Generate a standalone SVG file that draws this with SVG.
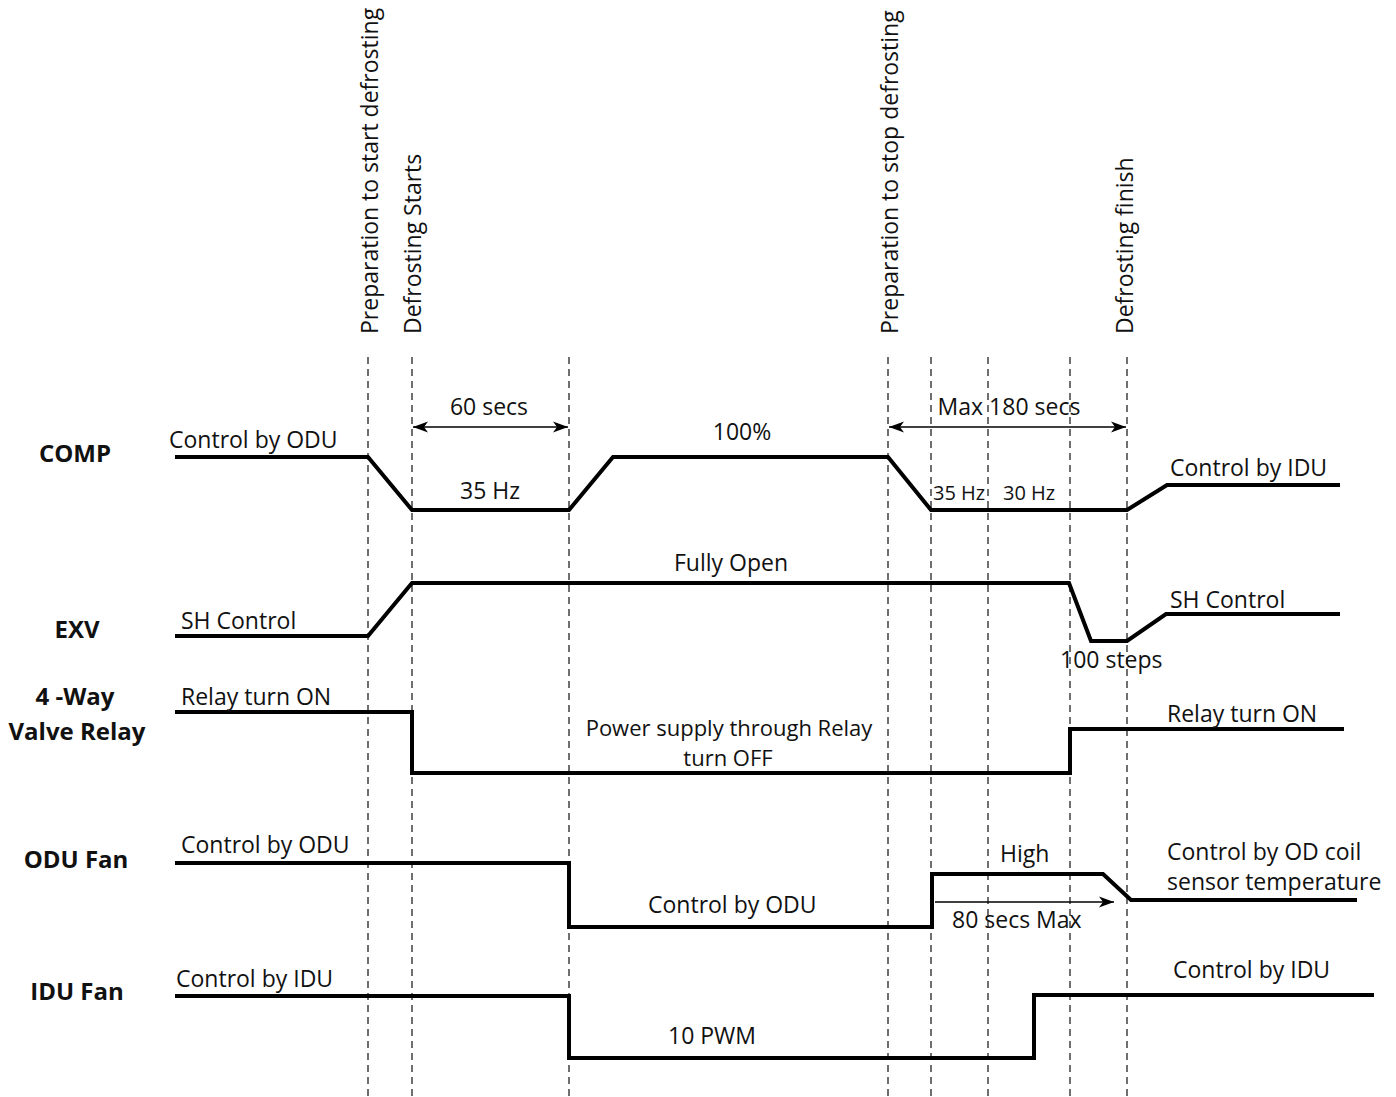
<svg xmlns="http://www.w3.org/2000/svg" width="1396" height="1097" viewBox="0 0 1396 1097">
<style>
text{font-family:"Open Sans","Liberation Sans",sans-serif;font-size:23px;fill:#111}
.lbl{font-weight:bold;font-size:24px;text-anchor:middle}
.sm{font-size:20px}
.md{font-size:22px}
.mid{text-anchor:middle}
.sig{fill:none;stroke:#000;stroke-width:4;stroke-linejoin:miter}
.dash{fill:none;stroke:#222;stroke-width:1.3;stroke-dasharray:7 5}
.dim{fill:none;stroke:#000;stroke-width:1.3}
</style>
<defs>
<marker id="ah" markerWidth="16" markerHeight="12" refX="15" refY="6" orient="auto-start-reverse" markerUnits="userSpaceOnUse">
<path d="M0,0.5 L15,6 L0,11.5 L4,6 Z" fill="#000"/>
</marker>
</defs>
<rect width="1396" height="1097" fill="#fff"/>

<g id="events">
<text transform="translate(378,334) rotate(-90)">Preparation to start defrosting</text>
<text transform="translate(421,334) rotate(-90)">Defrosting Starts</text>
<text transform="translate(898,334) rotate(-90)">Preparation to stop defrosting</text>
<text transform="translate(1133,334) rotate(-90)">Defrosting finish</text>
</g>

<g id="connectors">
<path class="dash" d="M368,357V1097M412,357V1097M569,357V1097M888,357V1097M931,357V1097M988,357V1097M1070,357V1097M1127,357V1097"/>
<line class="dim" x1="413" y1="427" x2="568" y2="427" marker-start="url(#ah)" marker-end="url(#ah)"/>
<line class="dim" x1="889" y1="427" x2="1126" y2="427" marker-start="url(#ah)" marker-end="url(#ah)"/>
<line class="dim" x1="935" y1="902" x2="1114" y2="902" marker-end="url(#ah)"/>
<text class="mid" x="489" y="415">60 secs</text>
<text class="mid" x="1009" y="415">Max 180 secs</text>
<text x="952" y="928">80 secs Max</text>
</g>

<g id="comp">
<text class="lbl" x="75" y="462">COMP</text>
<path class="sig" d="M175,457H368L412,510H569L613,457H888L931,510H1127L1167,485H1340"/>
<text x="169" y="448">Control by ODU</text>
<text class="mid" x="490" y="499">35 Hz</text>
<text class="mid" x="742" y="440">100%</text>
<text class="sm" x="933" y="500">35 Hz</text>
<text class="sm" x="1003" y="500">30 Hz</text>
<text x="1170" y="476">Control by IDU</text>
</g>

<g id="exv">
<text class="lbl" x="77" y="638">EXV</text>
<path class="sig" d="M175,636H368L412,583H1069L1091,641H1127L1166,614H1340"/>
<text x="181" y="629">SH Control</text>
<text class="mid" x="731" y="571">Fully Open</text>
<text x="1170" y="608">SH Control</text>
<text x="1060" y="668">100 steps</text>
</g>

<g id="relay">
<text class="lbl" x="75" y="705">4 -Way</text>
<text class="lbl" x="77" y="740">Valve Relay</text>
<path class="sig" d="M175,712H412V773H1070V729H1344"/>
<text x="181" y="705">Relay turn ON</text>
<text class="mid md" x="729" y="736">Power supply through Relay</text>
<text class="mid md" x="728" y="766">turn OFF</text>
<text x="1167" y="722">Relay turn ON</text>
</g>

<g id="odufan">
<text class="lbl" x="76" y="868">ODU Fan</text>
<path class="sig" d="M175,863H569V927H932V874H1103L1131,900H1357"/>
<text x="181" y="853">Control by ODU</text>
<text x="648" y="913">Control by ODU</text>
<text x="1000" y="862">High</text>
<text x="1167" y="860">Control by OD coil</text>
<text x="1167" y="890">sensor temperature</text>
</g>

<g id="idufan">
<text class="lbl" x="77" y="1000">IDU Fan</text>
<path class="sig" d="M175,996H569V1058H1034V995H1374"/>
<text x="176" y="987">Control by IDU</text>
<text x="668" y="1044">10 PWM</text>
<text x="1173" y="978">Control by IDU</text>
</g>
</svg>
